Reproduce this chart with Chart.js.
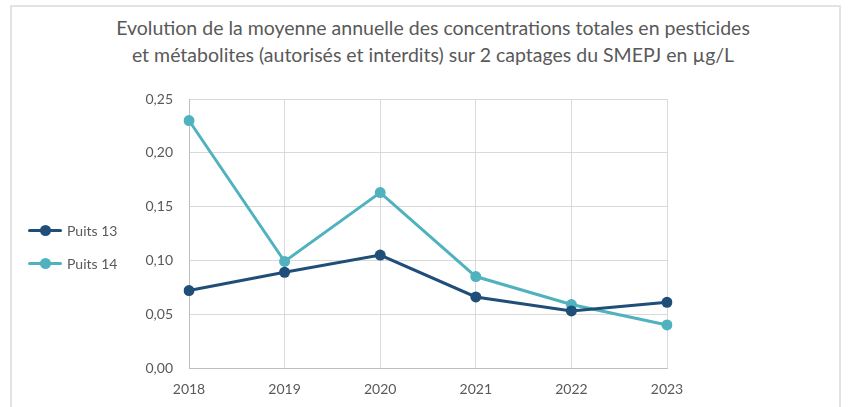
<!DOCTYPE html>
<html>
<head>
<meta charset="utf-8">
<script src="https://cdn.jsdelivr.net/npm/chart.js@4"></script>
<style>
  html, body { margin: 0; padding: 0; background: #fff; }
  #wrap { position: relative; width: 848px; height: 407px; overflow: hidden; }
  #frame { position: absolute; left: 10px; top: 5px; width: 831px; height: 420px;
           border: 2px solid #e3e3e3; border-bottom: none; box-sizing: border-box; }
  #title { position: absolute; left: 0; width: 866px; top: 14px; text-align: center;
           font-family: Lato, sans-serif; font-size: 19.5px; line-height: 27px; color: #595959; }
  #legend { position: absolute; left: 28px; top: 214px; font-family: Lato, sans-serif;
            font-size: 14px; color: #595959; }
  .item { display: flex; align-items: center; height: 33px; }
  .sym { position: relative; width: 34px; height: 11px; margin-right: 5px; }
  .sym .ln { position: absolute; left: 0; right: 0; top: 4px; height: 3px; border-radius: 2px; }
  .sym .dot { position: absolute; left: 11.5px; top: 0; width: 11px; height: 11px; border-radius: 50%; }
  canvas { position: absolute; left: 0; top: 0; }
</style>
</head>
<body>
<div id="wrap">
  <div id="frame"></div>
  <div id="title">Evolution de la moyenne annuelle des concentrations totales en pesticides<br>et métabolites (autorisés et interdits) sur 2 captages du SMEPJ en µg/L</div>
  <canvas id="c" width="848" height="407"></canvas>
  <div id="legend"></div>
</div>
<script>
// Years and annual mean concentrations (µg/L)
const years = ['2018', '2019', '2020', '2021', '2022', '2023'];
const puits13 = [0.072, 0.089, 0.105, 0.066, 0.053, 0.061];
const puits14 = [0.230, 0.099, 0.163, 0.085, 0.059, 0.040];
const seriesNames = ['Puits 13', 'Puits 14'];
const seriesColors = ['#1F4E79', '#4FB2BE'];
const yTicks = [0, 0.05, 0.10, 0.15, 0.20, 0.25];

const frFmt = v => v.toFixed(2).replace('.', ',');

const datasets = [puits13, puits14].map((vals, i) => ({
  label: seriesNames[i],
  data: vals,
  borderColor: seriesColors[i],
  backgroundColor: seriesColors[i],
  borderWidth: 3,
  pointRadius: 5.5,
  pointHoverRadius: 5.5,
  pointBorderWidth: 0,
  tension: 0
}));

const chart = new Chart(document.getElementById('c'), {
  type: 'line',
  data: { labels: years, datasets },
  options: {
    responsive: false,
    animation: false,
    devicePixelRatio: 1,
    layout: { padding: { left: 130, right: 181, top: 99, bottom: 0 } },
    plugins: { legend: { display: false }, title: { display: false }, tooltip: { enabled: false } },
    scales: {
      x: {
        offset: false,
        afterFit: s => { s.height = 39; },
        grid: { color: '#d9d9d9', lineWidth: 1, drawTicks: false },
        border: { color: '#bfbfbf', width: 1 },
        ticks: { color: '#595959', font: { family: 'Lato', size: 14 }, padding: 13, maxRotation: 0 }
      },
      y: {
        min: 0, max: 0.25,
        afterBuildTicks: s => { s.ticks = yTicks.map(v => ({ value: v })); },
        afterFit: s => { s.width = 59; },
        grid: { color: '#d9d9d9', lineWidth: 1, drawTicks: false },
        border: { color: '#bfbfbf', width: 1 },
        ticks: { color: '#595959', font: { family: 'Lato', size: 14 }, padding: 16,
                 callback: v => frFmt(v) }
      }
    }
  }
});

// Legend built from the series names and colours
const lg = document.getElementById('legend');
seriesNames.forEach((n, i) => {
  const it = document.createElement('div');
  it.className = 'item';
  it.innerHTML = '<div class="sym"><div class="ln" style="background:' + seriesColors[i] +
    '"></div><div class="dot" style="background:' + seriesColors[i] + '"></div></div><span>' + n + '</span>';
  lg.appendChild(it);
});
</script>
</body>
</html>
